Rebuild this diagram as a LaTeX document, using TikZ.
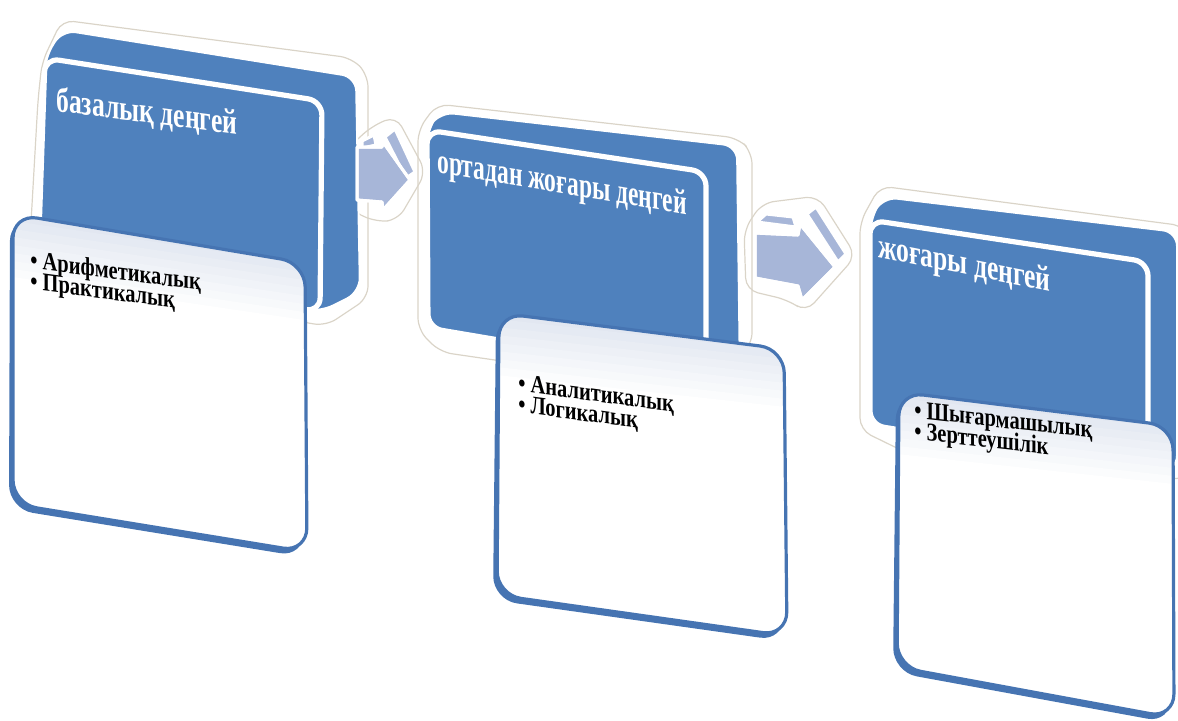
\documentclass[tikz,border=0pt]{standalone}
\usepackage{fontspec}
\setmainfont{Liberation Serif}
\definecolor{lvlblue}{RGB}{79,129,189}
\definecolor{lvledge}{RGB}{70,116,178}
\definecolor{arrowc}{RGB}{167,182,216}
\definecolor{haloc}{RGB}{218,212,200}
\definecolor{band}{RGB}{222,228,239}
% white card with blue rim and a soft band under its top edge
% #1,#2 top left; #3,#4 top right; #5,#6 bottom right; #7,#8 bottom left
\newcommand\levelcard[8]{%
  \fill[lvledge, rounded corners=12pt] (#1-3,#2+3) -- (#3-3,#4+3) -- (#5-3,#6+5) -- (#7-4,#8+5) -- cycle;
  \fill[white, rounded corners=12pt] (#1,#2) -- (#3,#4) -- (#5,#6) -- (#7,#8) -- cycle;
  \begin{scope}
    \clip[rounded corners=12pt] (#1,#2) -- (#3,#4) -- (#5,#6) -- (#7,#8) -- cycle;
    \foreach \i in {0,...,9}{%
      \pgfmathtruncatemacro\p{max(0,100-11*\i)}%
      \fill[band!\p!white] (#1-20,{#2-12+8*\i}) -- (#3+20,{#4-12+8*\i})
        -- (#3+20,{#4-3.5+8*\i}) -- (#1-20,{#2-3.5+8*\i}) -- cycle;}
  \end{scope}
  \draw[lvledge, line width=1.6pt, rounded corners=12pt] (#1,#2) -- (#3,#4) -- (#5,#6) -- (#7,#8) -- cycle;
}
% two bullet lines set on a fixed baseline distance
\newcommand\twoitems[2]{\vtop{\baselineskip=10.6pt\lineskiplimit=-100pt\hbox{• #1}\hbox{• #2}}}
\begin{document}
\begin{tikzpicture}[x=0.5pt,y=-0.5pt,
  halo/.style={draw=haloc, line width=0.6pt, rounded corners=6pt},
  depth/.style={fill=lvlblue, draw=white, line width=1pt, rounded corners=7pt, line join=round},
  frontface/.style={fill=lvlblue, draw=white, line width=2.6pt, rounded corners=7pt},
  arrowpart/.style={fill=arrowc, draw=white, line width=1.5pt, line join=round},
  titletext/.style={text=white, font=\fontsize{16}{18}\selectfont\bfseries, anchor=base west, inner sep=0pt, transform shape},
  itemtext/.style={text=black, font=\fontsize{12.8}{14}\selectfont\bfseries, anchor=base west, inner sep=0pt, transform shape},
]
\useasboundingbox (0,0) rectangle (1178,720);
\clip (0,0) rectangle (1178,720);

% soft outlines around the blocks and arrows
\draw[halo] (38,100) -- (42,62) -- (62,20) -- (352,58) -- (368,75) -- (368,298) -- (326,326) -- (28,275) -- cycle;
\draw[halo] (418,330) -- (418,130) -- (437,104) -- (738,138) -- (752,152) -- (752,345) -- (700,390) -- (440,352) -- cycle;
\draw[halo] (860,430) -- (860,222) -- (880,186) -- (1185,226) -- (1185,480) -- (905,452) -- cycle;
\draw[halo] (348,148) -- (372,126) -- (396,116) -- (426,172) -- (398,220) -- (376,222) -- (350,210) -- cycle;
\draw[halo] (744,230) -- (762,203) -- (818,196) -- (856,256) -- (806,312) -- (788,300) -- (746,290) -- cycle;

% level 1
\draw[depth] (62,30) -- (356,77) -- (360,292) -- (320,312) -- (38,262) -- (45,58) -- cycle;
\draw[frontface] (45,58) -- (322,101) -- (320,312) -- (38,262) -- cycle;
\begin{scope}[cm={0.8,-0.104,0,1.1,(56,111)}]
  \node[titletext] (t1) at (0,0) {базалық деңгей};
\end{scope}
\levelcard{13}{214}{305}{263}{307}{552}{13}{504}
\begin{scope}[cm={0.8,-0.104,0,1,(30,268)}]
  \node[itemtext] (i1) at (0,0) {\twoitems{Арифметикалық}{Практикалық}};
\end{scope}

% arrow 1
\fill[arrowpart] (362,141) -- (374,135) -- (376,145) -- (362,148) -- cycle;
\fill[arrowpart] (385,137) -- (395,129) -- (415,172) -- (406,178) -- cycle;
\fill[arrowpart] (357,147) -- (382,147) -- (383,142) -- (410,180) -- (383,210) -- (382,202) -- (357,200) -- cycle;
\draw[white, line width=1.5pt, line join=round] (357,147) -- (382,147) -- (383,142) -- (410,180) -- (383,210) -- (382,202) -- (357,200) -- cycle;

% level 2
\draw[depth] (440,112) -- (737,146) -- (740,380) -- (706,375) -- (428,328) -- (427,130) -- cycle;
\draw[frontface] (427,130) -- (706,172) -- (706,375) -- (428,328) -- cycle;
\begin{scope}[cm={0.735,-0.125,0,1.1,(437,172)}]
  \node[titletext] (t2) at (0,0) {ортадан жоғары деңгей};
\end{scope}
\levelcard{499}{313}{784}{349}{787}{636}{497}{595}
\begin{scope}[cm={0.8,-0.107,0,1,(518,391)}]
  \node[itemtext] (i2) at (0,0) {\twoitems{Аналитикалық}{Логикалық}};
\end{scope}

% arrow 2
\fill[arrowpart] (757,222) -- (766,214) -- (793,217) -- (796,227) -- cycle;
\fill[arrowpart] (807,214) -- (816,207) -- (846,254) -- (838,262) -- cycle;
\fill[arrowpart] (755,233) -- (798,235) -- (800,224) -- (835,267) -- (802,300) -- (798,286) -- (755,278) -- cycle;
\draw[white, line width=1.5pt, line join=round] (755,233) -- (798,235) -- (800,224) -- (835,267) -- (802,300) -- (798,286) -- (755,278) -- cycle;

% level 3
\draw[depth] (883,197) -- (1177,232) -- (1177,470) -- (1148,470) -- (870,425) -- (870,220) -- cycle;
\draw[frontface] (870,220) -- (1148,262) -- (1148,470) -- (870,425) -- cycle;
\begin{scope}[cm={0.8,-0.16,0,1.1,(878,257)}]
  \node[titletext] (t3) at (0,0) {жоғары деңгей};
\end{scope}
\levelcard{899}{392}{1173}{426}{1174}{718}{897}{667}
\begin{scope}[cm={0.8,-0.09,0,1,(914,418)}]
  \node[itemtext] (i3) at (0,0) {\twoitems{Шығармашылық}{Зерттеушілік}};
\end{scope}
\end{tikzpicture}
\end{document}
